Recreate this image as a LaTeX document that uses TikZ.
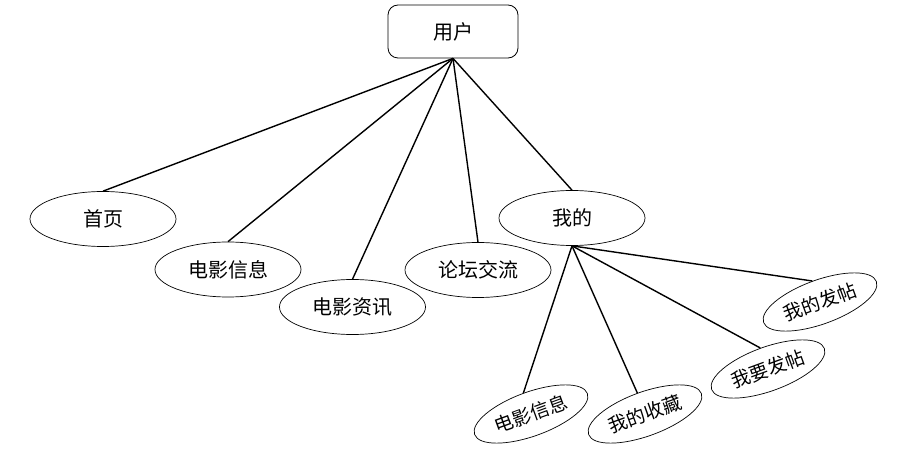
\documentclass[tikz,border=0pt]{standalone}
\usepackage{fontspec}
\setmainfont{Noto Sans CJK SC}
\usepackage{tikz}
\usetikzlibrary{shapes,positioning}

\begin{document}
\begin{tikzpicture}[x=1pt, y=1pt, font=\fontsize{20}{23}\selectfont]
  \tikzstyle{userbox} = [rectangle, draw=black, rounded corners=10pt, minimum width=130pt, minimum height=53pt, line width=0.8pt]
  \tikzstyle{menu} = [ellipse, draw=black, inner sep=0pt, minimum width=146pt, minimum height=55pt, line width=0.7pt]
  \tikzstyle{submenu} = [ellipse, draw=black, inner sep=0pt, minimum width=120pt, minimum height=44pt, line width=0.7pt, rotate=20, font=\fontsize{19}{22}\selectfont]
  \tikzstyle{link} = [draw=black, line width=1.4pt]

  \useasboundingbox (0,0) rectangle (911,-465);

  \node [userbox] (user) at (453,-31.5) {用户};

  \node [menu] (home) at (103,-219) {首页};
  \node [menu] (filminfo) at (228,-269.5) {电影信息};
  \node [menu] (filmnews) at (352.5,-307) {电影资讯};
  \node [menu] (forum) at (478,-270) {论坛交流};
  \node [menu] (mine) at (572,-218) {我的};

  \node [submenu] (myfilm) at (531,-414) {电影信息};
  \node [submenu] (myfav) at (645,-414) {我的收藏};
  \node [submenu] (newpost) at (768,-369) {我要发帖};
  \node [submenu] (myposts) at (820,-302) {我的发帖};

  % first level
  \foreach \n in {home,filminfo,filmnews,forum,mine}
    \draw [link] (user.south) -- (\n.north);
  % under mine
  \foreach \n in {myfilm,myfav,newpost,myposts}
    \draw [link] (mine.south) -- (\n.north);
\end{tikzpicture}
\end{document}
